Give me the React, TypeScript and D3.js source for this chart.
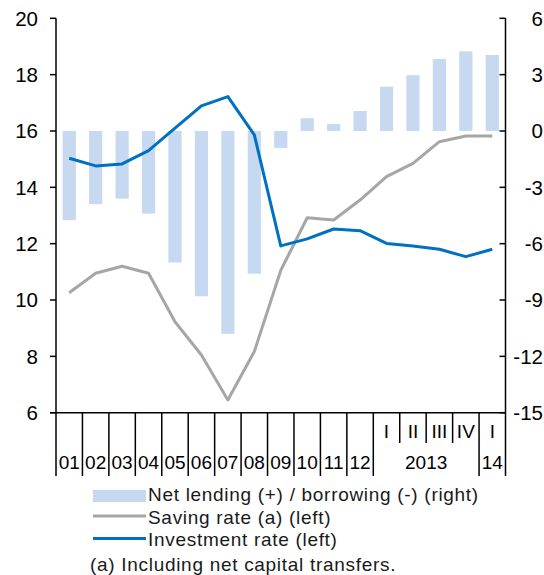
import React from "react";
import * as d3 from "d3";

const categories = ["01","02","03","04","05","06","07","08","09","10","11","12","2013-I","2013-II","2013-III","2013-IV","2014-I"];
const topLabels = ["","","","","","","","","","","","","I","II","III","IV","I"];
const bottomLabels = ["01","02","03","04","05","06","07","08","09","10","11","12","","","","","14"];
const yearGroups = [{ label: "2013", from: 12, to: 16 }];
const netLending = [-4.75,-3.9,-3.6,-4.4,-7.0,-8.8,-10.8,-7.6,-0.9,0.68,0.37,1.06,2.36,2.97,3.83,4.24,4.05];
const savingRate = [10.26,10.95,11.2,10.95,9.23,8.05,6.45,8.17,11.05,12.92,12.84,13.55,14.38,14.85,15.62,15.82,15.82];
const investmentRate = [15.03,14.76,14.83,15.3,16.1,16.89,17.22,15.86,11.92,12.17,12.52,12.46,12.01,11.92,11.8,11.54,11.8];
const leftTicks = [6,8,10,12,14,16,18,20];
const rightTicks = [-15,-12,-9,-6,-3,0,3,6];
const legendItems = ["Net lending (+) / borrowing (-) (right)", "Saving rate (a) (left)", "Investment rate (left)"];
const footnote = "(a) Including net capital transfers.";

const BAR = "#c6d9f0";
const GRAY = "#a6a6a6";
const BLUE = "#0070c0";
const FONT = "Liberation Sans, Arial, sans-serif";

export default function App() {
  const x0 = 56, x1 = 505.5, yTop = 18.3, yBot = 412.7;
  const x = d3.scaleBand<number>().domain(categories.map((_, i) => i)).range([x0, x1]).paddingInner(0.5).paddingOuter(0.25);
  const yL = d3.scaleLinear().domain([6, 20]).range([yBot, yTop]);
  const yR = d3.scaleLinear().domain([-15, 6]).range([yBot, yTop]);
  const cx = (i: number) => (x(i) as number) + x.bandwidth() / 2;
  const lineL = d3.line<number>().x((_, i) => cx(i)).y((d) => yL(d));
  const boundary = (k: number) => x0 + k * (x1 - x0) / categories.length;
  const shortTicks = new Set([13, 14, 15]);

  return (
    <svg width={544} height={575} style={{ position: "absolute", left: 0, top: 0, background: "#fff" }} fontFamily={FONT}>
      {netLending.map((v, i) => (
        <rect key={"b" + i} x={x(i)} width={x.bandwidth()} y={Math.min(yR(v), yR(0))} height={Math.abs(yR(v) - yR(0))} fill={BAR} />
      ))}
      <path d={lineL(savingRate) || ""} fill="none" stroke={GRAY} strokeWidth={3} strokeLinejoin="round" />
      <path d={lineL(investmentRate) || ""} fill="none" stroke={BLUE} strokeWidth={3} strokeLinejoin="round" />

      {/* left axis */}
      <line x1={x0} x2={x0} y1={yTop} y2={yBot} stroke="#000" strokeWidth={1.5} />
      {leftTicks.map((t) => (
        <g key={"l" + t}>
          <line x1={x0 - 6} x2={x0} y1={yL(t)} y2={yL(t)} stroke="#000" strokeWidth={1.5} />
          <text x={38} y={yL(t)} dy="0.36em" textAnchor="end" fontSize={20.5} fill="#000">{t}</text>
        </g>
      ))}
      {/* right axis */}
      <line x1={x1} x2={x1} y1={yTop} y2={yBot} stroke="#000" strokeWidth={1.5} />
      {rightTicks.map((t) => (
        <g key={"r" + t}>
          <line x1={x1 - 6} x2={x1} y1={yR(t)} y2={yR(t)} stroke="#000" strokeWidth={1.5} />
          <text x={543} y={yR(t)} dy="0.36em" textAnchor="end" fontSize={20.5} fill="#000">{t}</text>
        </g>
      ))}
      {/* x axis */}
      <line x1={x0 - 6} x2={x1} y1={yBot} y2={yBot} stroke="#000" strokeWidth={1.5} />
      {d3.range(categories.length + 1).map((k) => (
        <line key={"t" + k} x1={boundary(k)} x2={boundary(k)} y1={yBot} y2={shortTicks.has(k) ? 443 : 476} stroke="#000" strokeWidth={1.5} />
      ))}
      {topLabels.map((l, i) => l ? (
        <text key={"tl" + i} x={cx(i)} y={438} textAnchor="middle" fontSize={19} fill="#000">{l}</text>
      ) : null)}
      {bottomLabels.map((l, i) => l ? (
        <text key={"bl" + i} x={cx(i)} y={469} textAnchor="middle" fontSize={19} fill="#000">{l}</text>
      ) : null)}
      {yearGroups.map((g) => (
        <text key={g.label} x={(boundary(g.from) + boundary(g.to)) / 2} y={469} textAnchor="middle" fontSize={19} fill="#000">{g.label}</text>
      ))}

      {/* legend */}
      <rect x={93} y={490} width={53} height={12} fill={BAR} />
      <line x1={93} x2={146} y1={516} y2={516} stroke={GRAY} strokeWidth={3} />
      <line x1={93} x2={146} y1={538.5} y2={538.5} stroke={BLUE} strokeWidth={3} />
      {legendItems.map((t, i) => (
        <text key={t} x={148} y={[500.5, 523.5, 545.5][i]} fontSize={19} letterSpacing={0.7} fill="#1a1a1a">{t}</text>
      ))}
      <text x={90} y={571} fontSize={19} letterSpacing={0.7} fill="#1a1a1a">{footnote}</text>
    </svg>
  );
}
